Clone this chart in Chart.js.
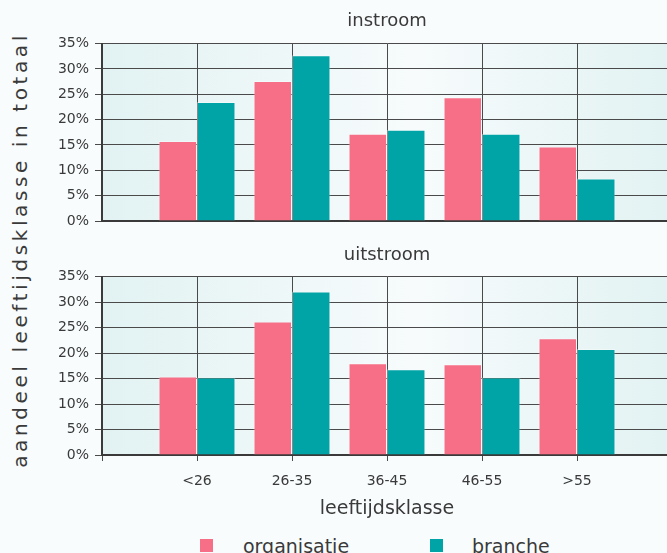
<!DOCTYPE html>
<html>
<head>
<meta charset="utf-8">
<script src="https://cdn.jsdelivr.net/npm/chart.js@4/dist/chart.umd.min.js"></script>
<style>
  html, body { margin: 0; padding: 0; }
  body { width: 667px; height: 553px; background: #f8fcfd; position: relative; overflow: hidden; font-family: "DejaVu Sans", sans-serif; color: #3a3a3a; }
  .box { position: absolute; left: 0; width: 672px; }
  #yTitle { position: absolute; left: 20px; top: 250px; transform: translate(-50%, -50%) rotate(-90deg); white-space: nowrap; font-size: 20px; letter-spacing: 3.6px; }
  .leg { position: absolute; top: 534px; font-size: 19px; line-height: 24px; white-space: nowrap; }
  .sw { position: absolute; top: 539px; width: 13px; height: 13px; }
</style>
</head>
<body>
<div id="yTitle">aandeel leeftijdsklasse in totaal</div>
<div class="box" style="top:0;height:232px"><canvas id="instroom-chart" width="672" height="232"></canvas></div>
<div class="box" style="top:232px;height:290px"><canvas id="uitstroom-chart" width="672" height="290"></canvas></div>
<div class="sw" style="left:200px;background:#f76f87"></div>
<div class="leg" style="left:243px">organisatie</div>
<div class="sw" style="left:430px;background:#00a3a6"></div>
<div class="leg" style="left:472px">branche</div>
<script>
// categories (empty slot at both ends, like the original axis)
var categories = ['<26', '26-35', '36-45', '46-55', '>55'];
var yTicks = [0, 5, 10, 15, 20, 25, 30, 35];

// instroom
var instroomOrganisatie = [15.8, 27.6, 17.2, 24.4, 14.7];
var instroomBranche = [23.5, 32.7, 18.0, 17.2, 8.4];

// uitstroom
var uitstroomOrganisatie = [15.4, 26.2, 18.0, 17.8, 22.9];
var uitstroomBranche = [15.2, 32.1, 16.8, 15.2, 20.8];

var pink = '#f76f87';
var teal = '#00a3a6';
var gridColor = '#4a4a4a';
var textColor = '#3a3a3a';
var fontFamily = 'DejaVu Sans';

var labels = [''].concat(categories, ['']);
var pad = function(arr) { return [null].concat(arr, [null]); };

var plotBackground = {
    id: 'plotBackground',
    beforeDraw: function(chart) {
        var a = chart.chartArea;
        var ctx = chart.ctx;
        var g = ctx.createLinearGradient(a.left, 0, a.right, 0);
        g.addColorStop(0, '#e2f2f2');
        g.addColorStop(0.55, '#f7fbfc');
        g.addColorStop(1, '#e2f2f2');
        ctx.save();
        ctx.fillStyle = g;
        ctx.fillRect(a.left, a.top, a.right - a.left, a.bottom - a.top);
        ctx.restore();
    }
};

var makeChart = function(id, title, orgData, branchData, showX) {
    var ctx = document.getElementById(id).getContext('2d');
    return new Chart(ctx, {
        type: 'bar',
        data: {
            labels: labels,
            datasets: [{
                label: 'organisatie',
                data: pad(orgData),
                backgroundColor: pink,
                borderColor: 'rgba(255,255,255,0.35)',
                borderWidth: 1,
                borderSkipped: 'bottom'
            }, {
                label: 'branche',
                data: pad(branchData),
                backgroundColor: teal,
                borderColor: 'rgba(255,255,255,0.35)',
                borderWidth: 1,
                borderSkipped: 'bottom'
            }]
        },
        options: {
            responsive: false,
            animation: false,
            categoryPercentage: 0.81,
            barPercentage: 1.0,
            layout: { padding: 0 },
            plugins: {
                legend: { display: false },
                tooltip: { enabled: false },
                title: {
                    display: true,
                    fullSize: false,
                    text: title,
                    color: textColor,
                    font: { family: fontFamily, size: 18, weight: 'normal' },
                    padding: showX ? { top: 13, bottom: 10 } : { top: 11, bottom: 11 }
                }
            },
            scales: {
                x: {
                    offset: false,
                    grid: {
                        offset: false,
                        color: function(c) { return c.index === labels.length - 1 ? 'transparent' : gridColor; },
                        lineWidth: 1,
                        drawTicks: showX,
                        tickLength: 6
                    },
                    border: { display: true, color: textColor, width: 2 },
                    ticks: {
                        display: showX,
                        color: textColor,
                        font: { family: fontFamily, size: 14 },
                        padding: 12,
                        maxRotation: 0,
                        autoSkip: false
                    },
                    title: {
                        display: showX,
                        text: 'leeftijdsklasse',
                        color: textColor,
                        font: { family: fontFamily, size: 19 },
                        padding: { top: 2, bottom: 2 }
                    },
                    afterFit: function(scale) {
                        scale.height = showX ? 67 : 11;
                        scale.paddingLeft = 0;
                        scale.paddingRight = 0;
                    }
                },
                y: {
                    min: 0,
                    max: 35,
                    afterBuildTicks: function(scale) {
                        scale.ticks = yTicks.map(function(v) { return { value: v }; });
                    },
                    grid: { color: gridColor, lineWidth: 1, drawTicks: true, tickLength: 7 },
                    border: { display: true, color: textColor, width: 2 },
                    ticks: {
                        color: textColor,
                        font: { family: fontFamily, size: 14 },
                        padding: 6,
                        callback: function(v) { return v + '%'; }
                    },
                    afterFit: function(scale) {
                        scale.width = 102;
                        scale.paddingTop = 0;
                        scale.paddingBottom = 0;
                    }
                }
            }
        },
        plugins: [plotBackground]
    });
};

makeChart('instroom-chart', 'instroom', instroomOrganisatie, instroomBranche, false);
makeChart('uitstroom-chart', 'uitstroom', uitstroomOrganisatie, uitstroomBranche, true);
</script>
</body>
</html>
